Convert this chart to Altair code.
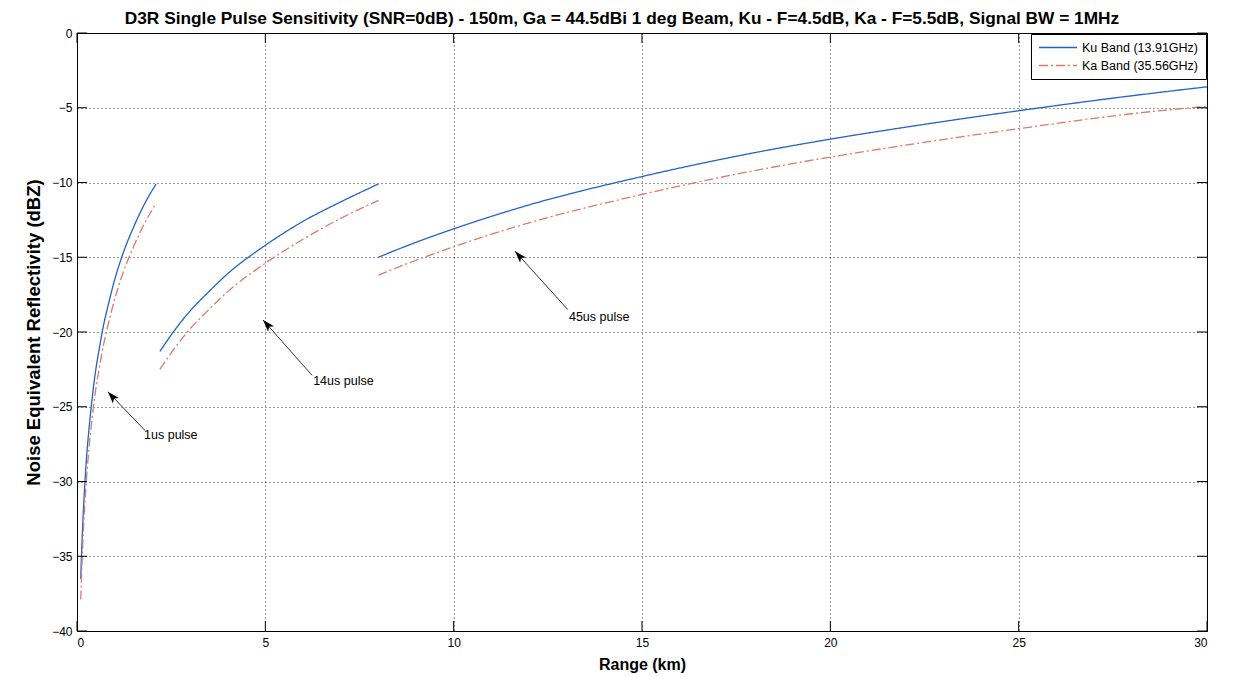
import altair as alt
import pandas as pd

# ---- data (range in km, noise-equivalent reflectivity in dBZ)
bands = ["Ku Band (13.91GHz)", "Ka Band (35.56GHz)"]

r_1us = [0.1, 0.12, 0.15, 0.2, 0.25, 0.3, 0.4, 0.5, 0.6, 0.7, 0.8, 1.0, 1.2, 1.5, 1.8, 2.1]
ku_1us = [-36.5, -34.9, -33.0, -30.5, -28.5, -27.0, -24.5, -22.5, -21.0, -19.6, -18.5, -16.5, -14.9, -13.0, -11.4, -10.1]
ka_1us = [-37.9, -36.3, -34.4, -31.8, -29.9, -28.3, -25.8, -23.8, -22.3, -20.9, -19.8, -17.8, -16.2, -14.3, -12.7, -11.4]

r_14us = [2.2, 2.5, 3, 3.5, 4, 5, 6, 7, 8]
ku_14us = [-21.3, -20.2, -18.6, -17.3, -16.1, -14.2, -12.6, -11.3, -10.1]
ka_14us = [-22.5, -21.4, -19.8, -18.5, -17.3, -15.4, -13.8, -12.4, -11.2]

r_45us = [8, 9, 10, 12, 15, 18, 20, 22, 25, 28, 30]
ku_45us = [-15.0, -14.0, -13.1, -11.5, -9.6, -8.0, -7.1, -6.3, -5.2, -4.2, -3.6]
ka_45us = [-16.2, -15.2, -14.3, -12.7, -10.8, -9.2, -8.3, -7.5, -6.4, -5.4, -4.9]

x_ticks = [0, 5, 10, 15, 20, 25, 30]
y_ticks = [-40, -35, -30, -25, -20, -15, -10, -5, 0]

# annotation arrows (data coordinates)
ann_label = ["1us pulse", "14us pulse", "45us pulse"]
head_x = [0.82, 4.94, 11.63]
head_y = [-24.0, -19.2, -14.6]
tail_x = [1.81, 6.24, 13.03]
tail_y = [-26.6, -22.9, -18.5]
text_x = [1.78, 6.27, 13.06]
text_y = [-26.9, -23.3, -19.0]

# ---- tables
rows = []
for pulse, rr, ku, ka in [("1us", r_1us, ku_1us, ka_1us),
                          ("14us", r_14us, ku_14us, ka_14us),
                          ("45us", r_45us, ku_45us, ka_45us)]:
    for r, v in zip(rr, ku):
        rows.append({"band": bands[0], "pulse": pulse, "range": r, "dbz": v})
    for r, v in zip(rr, ka):
        rows.append({"band": bands[1], "pulse": pulse, "range": r, "dbz": v})
df = pd.DataFrame(rows)

ann = pd.DataFrame({"label": ann_label, "hx": head_x, "hy": head_y,
                    "tx": tail_x, "ty": tail_y, "lx": text_x, "ly": text_y})
xt = pd.DataFrame({"v": x_ticks})
yt = pd.DataFrame({"v": y_ticks})

W, H = 1130, 598
FONT = "Liberation Sans"
xs = alt.Scale(domain=[0, 30], nice=False, zero=False)
ys = alt.Scale(domain=[-40, 0], nice=False, zero=False)
XAX = alt.Axis(values=x_ticks, title="Range (km)", format="d")
YAX = alt.Axis(values=y_ticks, title="Noise Equivalent Reflectivity (dBZ)", format="d")

lines = alt.Chart(df).mark_line(strokeWidth=1.3, interpolate="monotone").encode(
    x=alt.X("range:Q", scale=xs, axis=XAX),
    y=alt.Y("dbz:Q", scale=ys, axis=YAX),
    color=alt.Color("band:N", scale=alt.Scale(domain=bands, range=["#2462c4", "#d97b6c"]),
                    legend=alt.Legend(title=None)),
    strokeDash=alt.StrokeDash("band:N", scale=alt.Scale(domain=bands, range=[[1, 0], [9, 3, 2, 3]]),
                              legend=alt.Legend(title=None)),
    detail="pulse:N",
)

arrow_lines = alt.Chart(ann).mark_rule(color="#333333", strokeWidth=1).encode(
    x=alt.X("tx:Q", scale=xs, axis=XAX), y=alt.Y("ty:Q", scale=ys, axis=YAX),
    x2="hx:Q", y2="hy:Q",
)

arrow_heads = alt.Chart(ann).mark_point(
    shape="M0,0 L0.4,1.2 L0,0.9 L-0.4,1.2 Z", filled=True, color="black",
    opacity=1, size=400, angle=318, strokeWidth=0,
).encode(
    x=alt.X("hx:Q", scale=xs, axis=XAX), y=alt.Y("hy:Q", scale=ys, axis=YAX),
)

labels = alt.Chart(ann).mark_text(
    align="left", baseline="middle", font=FONT, fontSize=12.5, color="black",
).encode(
    x=alt.X("lx:Q", scale=xs, axis=XAX), y=alt.Y("ly:Q", scale=ys, axis=YAX),
    text="label:N",
)

TL = 10
ytick_l = alt.Chart(yt).mark_rule(color="black").encode(
    y=alt.Y("v:Q", scale=ys, axis=YAX), x=alt.value(0), x2=alt.value(TL))
ytick_r = alt.Chart(yt).mark_rule(color="black").encode(
    y=alt.Y("v:Q", scale=ys, axis=YAX), x=alt.value(W - TL), x2=alt.value(W))
xtick_b = alt.Chart(xt).mark_rule(color="black").encode(
    x=alt.X("v:Q", scale=xs, axis=XAX), y=alt.value(H), y2=alt.value(H - TL))
xtick_t = alt.Chart(xt).mark_rule(color="black").encode(
    x=alt.X("v:Q", scale=xs, axis=XAX), y=alt.value(0), y2=alt.value(TL))

chart = alt.layer(
    lines, arrow_lines, arrow_heads, labels, ytick_l, ytick_r, xtick_b, xtick_t
).properties(
    width=W, height=H,
    padding={"left": 69, "top": 25, "right": 23, "bottom": 42},
    autosize=alt.AutoSizeParams(type="none"),
    background="white",
    title=alt.TitleParams(
        "D3R Single Pulse Sensitivity (SNR=0dB) - 150m, Ga = 44.5dBi 1 deg Beam, Ku - F=4.5dB, Ka - F=5.5dB, Signal BW = 1MHz",
        font=FONT, fontSize=17.3, fontWeight="bold", anchor="middle", offset=0, dx=-20, color="black",
    ),
).configure_view(
    stroke="black", strokeWidth=1,
).configure_axis(
    labelFont=FONT, labelFontSize=12, labelColor="black",
    titleFont=FONT, titleFontSize=16, titleFontWeight="bold", titleColor="black",
    grid=True, gridColor="black", gridDash=[1, 3], gridOpacity=0.8, gridWidth=1,
    domainColor="black", tickSize=0, labelPadding=5,
).configure_axisX(
    titlePadding=8, labelPadding=6,
).configure_axisY(
    titlePadding=8, titleFontSize=18.5,
).configure_legend(
    orient="top-right", offset=1, padding=7, strokeColor="black", fillColor="white",
    labelFont=FONT, labelFontSize=12.5, labelColor="black",
    symbolType="stroke", symbolSize=1450, symbolStrokeWidth=1.3, rowPadding=5,
    clipHeight=13, labelOffset=4, cornerRadius=0,
)

chart.save("out.html", embed_options={"renderer": "svg", "actions": False})
